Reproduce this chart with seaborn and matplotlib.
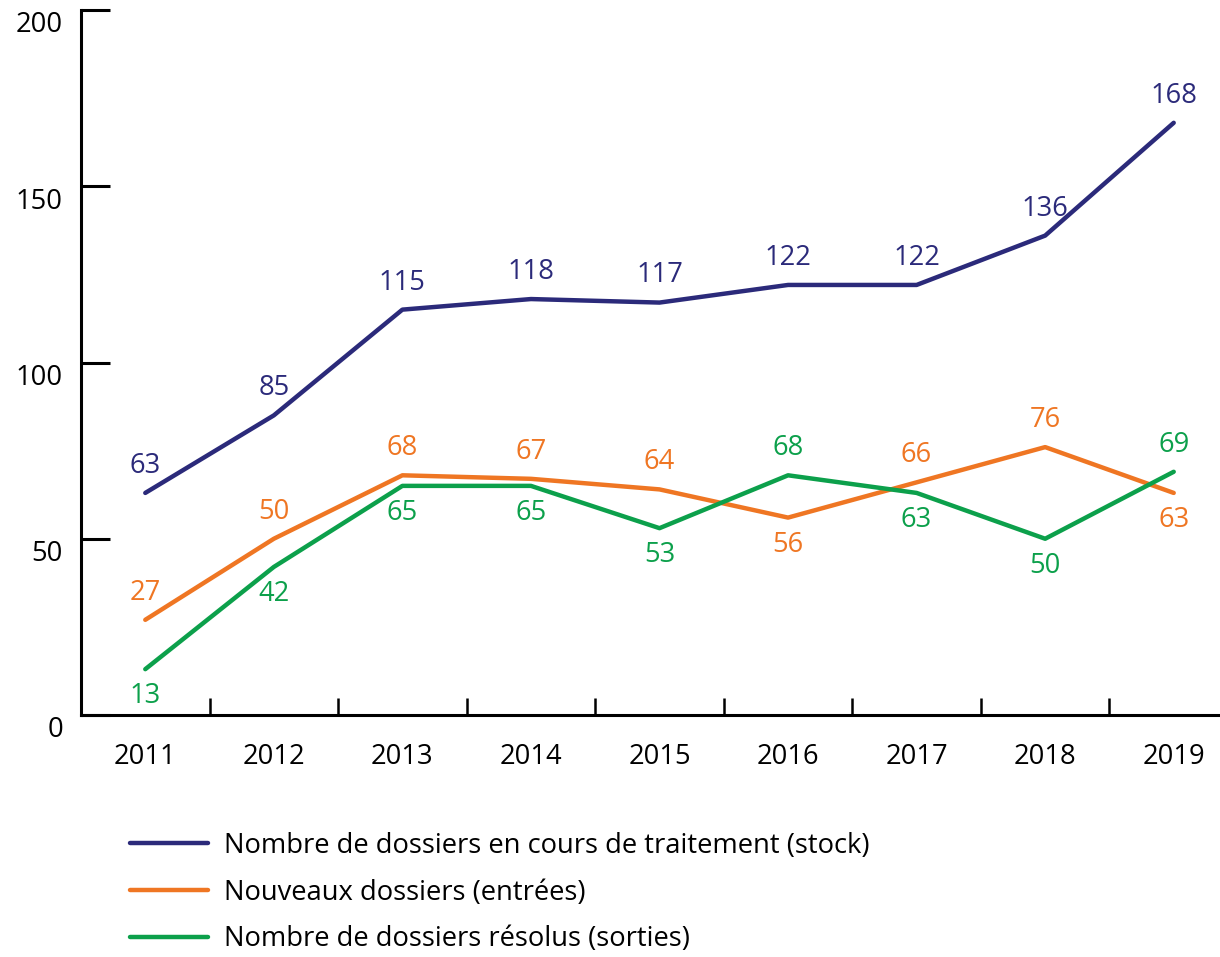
import numpy as np
import pandas as pd
import matplotlib
matplotlib.use("Agg")
import matplotlib.pyplot as plt
import seaborn as sns
from matplotlib.transforms import ScaledTranslation
from matplotlib.lines import Line2D

# Data
years = ["2011", "2012", "2013", "2014", "2015", "2016", "2017", "2018", "2019"]
stock = [63, 85, 115, 118, 117, 122, 122, 136, 168]
entrees = [27, 50, 68, 67, 64, 56, 66, 76, 63]
sorties = [13, 42, 65, 65, 53, 68, 63, 50, 69]
series_names = [
    "Nombre de dossiers en cours de traitement (stock)",
    "Nouveaux dossiers (entrées)",
    "Nombre de dossiers résolus (sorties)",
]
y_ticks = [0, 50, 100, 150, 200]

colors = ["#2b2a7a", "#ef7623", "#0ca04b"]

# value label placement: +1 above the point, -1 below
label_side = [
    [1, 1, 1, 1, 1, 1, 1, 1, 1],
    [1, 1, 1, 1, 1, -1, 1, 1, -1],
    [-1, -1, -1, -1, -1, 1, -1, -1, 1],
]

sns.set_theme(style="white")
plt.rcParams["font.family"] = ["Open Sans", "DejaVu Sans"]
plt.rcParams["text.color"] = "black"
FS = 19.7

x = np.arange(len(years))
df = pd.concat([
    pd.DataFrame({"x": x, "value": vals, "serie": name})
    for name, vals in zip(series_names, [stock, entrees, sorties])
])

fig = plt.figure(figsize=(12.2, 9.57), dpi=100)
ax = fig.add_axes([81 / 1220, 1 - 715 / 957, 1 - 81 / 1220, (715 - 10) / 957])

sns.lineplot(data=df, x="x", y="value", hue="serie", hue_order=series_names,
             palette=colors, linewidth=3.2, ax=ax, legend=False,
             solid_capstyle="round", solid_joinstyle="round")

# value labels
for vals, sides, col in zip([stock, entrees, sorties], label_side, colors):
    for xi, v, s in zip(x, vals, sides):
        ax.annotate(str(v), (xi, v), xytext=(0, 19.5 * s), textcoords="offset points",
                    ha="center", va="center", color=col, fontsize=FS)

ax.set_xlim(-0.5, 8.36)
ax.set_ylim(0, 200)
ax.set_xlabel("")
ax.set_ylabel("")

for side in ["top", "right"]:
    ax.spines[side].set_visible(False)
for side in ["left", "bottom"]:
    ax.spines[side].set_color("black")
    ax.spines[side].set_linewidth(2.2)

ax.set_xticks(x)
ax.set_xticklabels(years)
ax.set_xticks(np.arange(0.5, 8, 1), minor=True)
ax.tick_params(axis="x", which="major", length=0, pad=20, labelsize=FS, colors="black")
ax.tick_params(axis="x", which="minor", length=12, width=1.8, direction="in",
               color="black", bottom=True)

ax.set_yticks(y_ticks)
ax.set_yticklabels([str(t) for t in y_ticks])
ax.tick_params(axis="y", which="major", length=21, width=2.2, direction="in",
               pad=13, labelsize=FS, colors="black", left=True)
for lab in ax.get_yticklabels():
    lab.set_transform(lab.get_transform() + ScaledTranslation(0, -8.5 / 72, fig.dpi_scale_trans))

handles = [Line2D([], [], color=c, linewidth=3.2, solid_capstyle="round") for c in colors]
fig.legend(handles, series_names, loc="upper left",
           bbox_to_anchor=(130 / 1220, 1 - 832 / 957), frameon=False,
           fontsize=FS, handlelength=2.85, handletextpad=0.6, labelspacing=0.68,
           borderpad=0, borderaxespad=0, labelcolor="black")

fig.savefig("out.png", dpi=100)
